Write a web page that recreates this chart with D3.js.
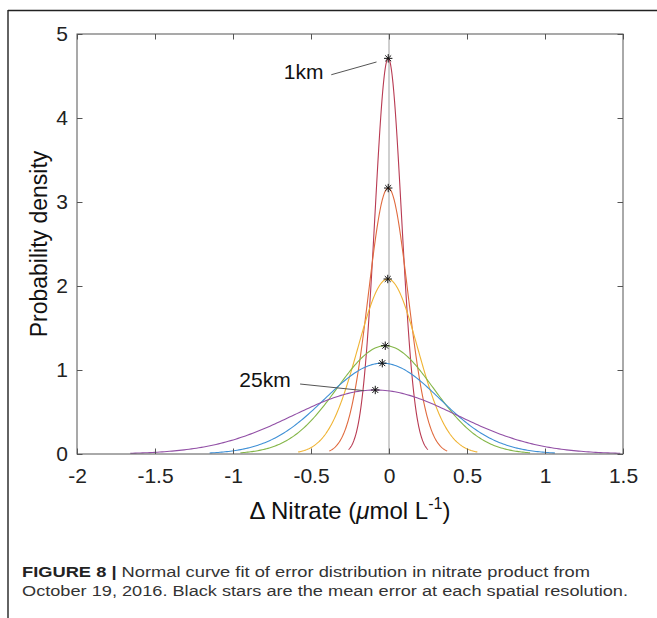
<!DOCTYPE html>
<html>
<head>
<meta charset="utf-8">
<script src="https://cdn.jsdelivr.net/npm/d3@7"></script>
<style>
  body { margin: 0; background: #fff; }
  text { font-family: Helvetica, "Liberation Sans", Arial, sans-serif; }
</style>
</head>
<body>
<div id="chart"></div>
<script>
// Normal curve fits, one per spatial resolution (1km ... 25km)
let seriesNames = ["1km", "res2", "res3", "res4", "res5", "25km"];
let means = [-0.005, -0.005, -0.008, -0.024, -0.043, -0.088];
let sigmas = [0.0847, 0.126, 0.1915, 0.3095, 0.369, 0.5235];
let colors = ["#b83a52", "#e06a3e", "#f0b434", "#84b648", "#3f90d6", "#9250a6"];

let xTicks = [-2, -1.5, -1, -0.5, 0, 0.5, 1, 1.5];
let yTicks = [0, 1, 2, 3, 4, 5];

// labels pointing at the 1km and 25km curves
let annotText = ["1km", "25km"];
let annotTextX = [-0.42, -0.63];
let annotTextY = [4.46, 0.80];
let annotLineFrom = [[-0.37, 4.515], [-0.57, 0.833]];
let annotLineTo = [[-0.08, 4.667], [-0.16, 0.754]];

let margins = {top: 34, right: 34, left: 77, bottom: 164};
let W = 657, H = 618;
let width = W - margins.left - margins.right;
let height = H - margins.top - margins.bottom;

let svg = d3.select("#chart").append("svg")
    .attr("width", W)
    .attr("height", H);

// page frame lines
svg.append("line").attr("x1", 8).attr("x2", W).attr("y1", 10.5).attr("y2", 10.5)
    .attr("stroke", "#222").attr("stroke-width", 1.4);
svg.append("line").attr("x1", 8).attr("x2", 8).attr("y1", 10).attr("y2", H)
    .attr("stroke", "#222").attr("stroke-width", 1.4);

let g = svg.append("g")
    .attr("transform", "translate(" + margins.left + "," + margins.top + ")");

let x = d3.scaleLinear().domain([-2, 1.5]).range([0, width]);
let y = d3.scaleLinear().domain([0, 5]).range([height, 0]);

// zero line
g.append("line")
    .attr("x1", x(0)).attr("x2", x(0))
    .attr("y1", y(0)).attr("y2", y(5))
    .attr("stroke", "#cfcfcf").attr("stroke-width", 2);

// curves over mean +- 3 sigma
let line = d3.line().x(d => x(d[0])).y(d => y(d[1]));
for (let i = 0; i < means.length; i++) {
    let m = means[i], s = sigmas[i];
    let pts = d3.range(0, 201).map(function(k) {
        let xv = m - 3 * s + k * 6 * s / 200;
        let z = (xv - m) / s;
        return [xv, Math.exp(-0.5 * z * z) / (s * Math.sqrt(2 * Math.PI))];
    });
    g.append("path")
        .datum(pts)
        .attr("d", line)
        .attr("fill", "none")
        .attr("stroke", colors[i])
        .attr("stroke-width", 1.1);
}

// black stars at the mean error
let r = 4.2;
let star = "M" + (-r) + ",0H" + r + "M0," + (-r) + "V" + r +
    "M" + (-0.7 * r) + "," + (-0.7 * r) + "L" + (0.7 * r) + "," + (0.7 * r) +
    "M" + (-0.7 * r) + "," + (0.7 * r) + "L" + (0.7 * r) + "," + (-0.7 * r);
g.selectAll(".star")
    .data(means)
    .enter()
    .append("path")
    .attr("class", "star")
    .attr("transform", (d, i) => "translate(" + x(d) + "," + y(1 / (sigmas[i] * Math.sqrt(2 * Math.PI))) + ")")
    .attr("d", star)
    .attr("stroke", "#111")
    .attr("stroke-width", 1)
    .attr("fill", "none");

// axes box with inward ticks on all sides
let axisColor = "#555";
let tickLen = 5.5;
let fmt = d => String(d);
function styleAxis(sel) {
    sel.select(".domain").remove();
    sel.selectAll(".tick line").attr("stroke", axisColor);
    sel.selectAll("text").attr("fill", "#222").style("font-size", "21px");
}
g.append("g")
    .attr("transform", "translate(0," + height + ")")
    .call(d3.axisBottom(x).tickValues(xTicks).tickSize(-tickLen).tickPadding(14).tickFormat(fmt))
    .call(styleAxis)
    .selectAll("text").attr("dy", "0.71em");
g.append("g")
    .call(d3.axisTop(x).tickValues(xTicks).tickSize(-tickLen).tickFormat(""))
    .call(styleAxis);
g.append("g")
    .call(d3.axisLeft(y).tickValues(yTicks).tickSize(-tickLen).tickPadding(9).tickFormat(fmt))
    .call(styleAxis);
g.append("g")
    .attr("transform", "translate(" + width + ",0)")
    .call(d3.axisRight(y).tickValues(yTicks).tickSize(-tickLen).tickFormat(""))
    .call(styleAxis);
g.append("rect")
    .attr("width", width).attr("height", height)
    .attr("fill", "none").attr("stroke", axisColor).attr("stroke-width", 1);

// annotations
for (let i = 0; i < annotText.length; i++) {
    g.append("line")
        .attr("x1", x(annotLineFrom[i][0])).attr("y1", y(annotLineFrom[i][1]))
        .attr("x2", x(annotLineTo[i][0])).attr("y2", y(annotLineTo[i][1]))
        .attr("stroke", "#555").attr("stroke-width", 1);
    g.append("text")
        .attr("x", x(annotTextX[i])).attr("y", y(annotTextY[i]))
        .attr("text-anchor", "end")
        .style("font-size", "21px")
        .attr("fill", "#111")
        .text(annotText[i]);
}

// axis titles
let xl = svg.append("text")
    .attr("x", 350).attr("y", 519)
    .attr("text-anchor", "middle")
    .style("font-size", "24px")
    .attr("fill", "#111");
xl.append("tspan").text("\u0394 Nitrate (");
xl.append("tspan").style("font-style", "italic").text("\u03bc");
xl.append("tspan").text("mol L");
xl.append("tspan").attr("dy", -10).style("font-size", "16px").text("-1");
xl.append("tspan").attr("dy", 10).text(")");

svg.append("text")
    .attr("transform", "translate(47," + (margins.top + height / 2) + ") rotate(-90)")
    .attr("text-anchor", "middle")
    .style("font-size", "23px")
    .attr("fill", "#111")
    .text("Probability density");

// caption
let c1 = svg.append("text")
    .attr("x", 22).attr("y", 577)
    .style("font-size", "15.5px")
    .attr("fill", "#333")
    .attr("textLength", 568)
    .attr("lengthAdjust", "spacingAndGlyphs");
c1.append("tspan").style("font-weight", "bold").attr("fill", "#222").text("FIGURE 8 | ");
c1.append("tspan").text("Normal curve fit of error distribution in nitrate product from");
svg.append("text")
    .attr("x", 22).attr("y", 596)
    .style("font-size", "15.5px")
    .attr("fill", "#333")
    .attr("textLength", 606)
    .attr("lengthAdjust", "spacingAndGlyphs")
    .text("October 19, 2016. Black stars are the mean error at each spatial resolution.");
</script>
</body>
</html>
